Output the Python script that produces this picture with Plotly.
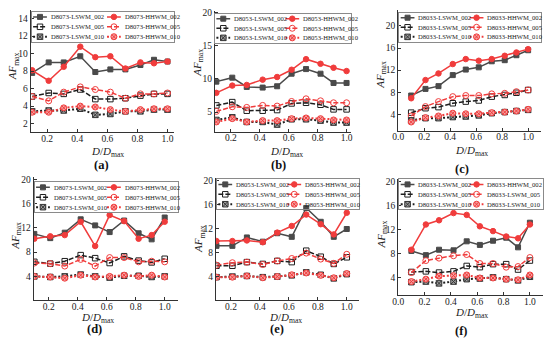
import plotly.graph_objects as go

# ---------------- data ----------------
D_ratio = [0.1, 0.21, 0.31, 0.42, 0.52, 0.62, 0.72, 0.82, 0.91, 1.0]

# panel (a) D8073
a_lswm_002 = [7.8, 9.0, 9.0, 9.7, 7.9, 8.2, 8.2, 8.7, 9.3, 9.1]
a_hhwm_002 = [8.1, 6.9, 8.5, 10.8, 9.6, 9.7, 8.3, 9.0, 8.9, 9.1]
a_lswm_005 = [5.1, 5.5, 5.4, 5.9, 4.8, 4.8, 4.9, 5.2, 5.4, 5.4]
a_hhwm_005 = [5.1, 4.6, 5.6, 6.2, 5.9, 5.6, 4.9, 5.4, 5.4, 5.5]
a_lswm_010 = [3.4, 3.5, 3.5, 3.7, 3.0, 3.1, 3.4, 3.4, 3.6, 3.6]
a_hhwm_010 = [3.3, 3.3, 3.8, 4.0, 3.9, 3.6, 3.4, 3.6, 3.7, 3.7]

# panel (b) D8053
b_lswm_002 = [9.6, 10.2, 8.8, 8.7, 8.9, 10.8, 11.5, 10.8, 9.4, 9.4]
b_hhwm_002 = [7.9, 9.0, 9.1, 9.9, 10.3, 11.4, 13.0, 12.3, 11.7, 11.2]
b_lswm_005 = [6.0, 6.5, 5.2, 5.2, 5.3, 6.3, 6.4, 6.1, 5.4, 5.4]
b_hhwm_005 = [5.1, 5.8, 5.7, 6.0, 5.9, 6.6, 7.0, 6.7, 6.4, 6.4]
b_lswm_010 = [3.8, 4.2, 3.5, 3.5, 3.1, 3.9, 3.9, 3.7, 3.4, 3.4]
b_hhwm_010 = [3.5, 4.0, 3.5, 3.7, 3.7, 4.0, 4.1, 4.0, 3.8, 3.8]

# panel (c) D8033
c_lswm_002 = [7.4, 8.6, 9.1, 11.1, 12.1, 12.5, 13.6, 13.8, 14.7, 15.6]
c_hhwm_002 = [6.9, 10.2, 11.4, 13.1, 14.0, 13.7, 14.0, 14.6, 15.2, 15.8]
c_lswm_005 = [4.3, 5.1, 5.3, 6.0, 6.3, 6.5, 7.2, 7.5, 7.9, 8.4]
c_hhwm_005 = [3.7, 5.4, 6.3, 7.2, 7.4, 7.4, 7.7, 7.8, 8.1, 8.4]
c_lswm_010 = [2.9, 3.3, 3.3, 3.5, 3.6, 3.8, 4.2, 4.4, 4.6, 4.8]
c_hhwm_010 = [2.6, 3.4, 3.7, 4.2, 4.1, 4.1, 4.3, 4.4, 4.6, 4.9]

# panel (d) D8073
d_lswm_002 = [11.0, 10.3, 11.2, 13.4, 12.4, 11.3, 13.2, 11.1, 10.1, 13.7]
d_hhwm_002 = [10.2, 10.6, 10.8, 13.0, 9.0, 14.1, 13.1, 10.2, 10.8, 13.0]
d_lswm_005 = [6.4, 6.1, 6.5, 7.5, 7.0, 6.2, 7.3, 6.6, 6.3, 6.9]
d_hhwm_005 = [6.2, 6.1, 5.7, 6.8, 5.7, 7.1, 7.1, 6.4, 6.5, 6.4]
d_lswm_010 = [4.0, 3.9, 4.0, 4.3, 4.0, 3.8, 4.1, 4.1, 3.9, 4.0]
d_hhwm_010 = [4.0, 3.9, 3.7, 4.2, 3.9, 4.0, 4.2, 4.0, 4.2, 3.9]

# panel (e) D8053
e_lswm_002 = [9.1, 9.1, 10.5, 9.8, 11.2, 10.6, 15.4, 13.1, 10.6, 11.9]
e_hhwm_002 = [9.9, 9.9, 10.0, 9.7, 11.3, 12.4, 14.3, 12.7, 11.0, 14.6]
e_lswm_005 = [5.8, 5.8, 6.4, 6.1, 6.6, 6.4, 8.3, 7.3, 6.1, 7.2]
e_hhwm_005 = [5.9, 6.3, 6.4, 6.0, 6.6, 7.0, 7.9, 6.9, 6.2, 7.7]
e_lswm_010 = [3.9, 4.0, 4.1, 3.9, 4.0, 4.2, 4.7, 4.3, 3.7, 4.4]
e_hhwm_010 = [3.9, 3.9, 4.1, 3.8, 4.0, 4.3, 4.6, 4.2, 3.8, 4.5]

# panel (f) D8033
f_lswm_002 = [8.4, 7.7, 8.6, 8.5, 10.0, 9.4, 10.1, 10.6, 9.0, 13.1]
f_hhwm_002 = [8.6, 12.8, 13.5, 14.7, 14.4, 12.5, 11.7, 10.8, 10.5, 12.8]
f_lswm_005 = [4.9, 5.0, 4.8, 5.0, 5.9, 5.7, 6.2, 6.2, 5.3, 6.8]
f_hhwm_005 = [4.8, 6.8, 7.2, 7.6, 7.8, 6.3, 6.3, 5.7, 5.8, 7.3]
f_lswm_010 = [3.2, 3.3, 3.0, 3.3, 3.7, 3.8, 4.0, 3.7, 3.5, 4.1]
f_hhwm_010 = [3.3, 3.7, 4.2, 4.3, 4.4, 3.9, 3.9, 3.7, 3.6, 4.4]

# legend labels
a_labels = ["D8073-LSWM_002", "D8073-HHWM_002", "D8073-LSWM_005", "D8073-HHWM_005", "D8073-LSWM_010", "D8073-HHWM_010"]
b_labels = ["D8053-LSWM_002", "D8053-HHWM_002", "D8053-LSWM_005", "D8053-HHWM_005", "D8053-LSWM_010", "D8053-HHWM_010"]
c_labels = ["D8033-LSWM_002", "D8033-HHWM_002", "D8033-LSWM_005", "D8033-HHWM_005", "D8033-LSWM_010", "D8033-HHWM_010"]
d_labels = ["D8073-LSWM_002", "D8073-HHWM_002", "D8073-LSWM_005", "D8073-HHWM_005", "D8073-LSWM_010", "D8073-HHWM_010"]
e_labels = ["D8053-LSWM_002", "D8053-HHWM_002", "D8053-LSWM_005", "D8053-HHWM_005", "D8053-LSWM_010", "D8053-HHWM_010"]
f_labels = ["D8033-LSWM_002", "D8033-HHWM_002", "D8033-LSWM_005", "D8033-LSWM_005", "D8033-LSWM_010", "D8033-LSWM_010"]

panel_tags = ["(a)", "(b)", "(c)", "(d)", "(e)", "(f)"]

a_yticks = [2, 4, 6, 8, 10, 12, 14]
b_yticks = [5, 10, 15, 20]
cdef_yticks = [4, 8, 12, 16, 20]
x_ticks_short = [0.2, 0.4, 0.6, 0.8, 1.0]
x_ticks_full = [0.0, 0.2, 0.4, 0.6, 0.8, 1.0]

# ---------------- styles ----------------
GRAY = "#4a4a4a"
RED = "#f03c3c"
BLK = "#1e1e1e"
styles = [
    dict(color=GRAY, dash="solid", width=1.5, symbol="square", fill=GRAY, mline=GRAY, size=5),
    dict(color=RED, dash="solid", width=1.5, symbol="circle", fill=RED, mline=RED, size=5.5),
    dict(color=BLK, dash="5px,2px", width=1.5, symbol="square-open", fill=BLK, mline=BLK, size=5.5),
    dict(color=RED, dash="5px,2px", width=1.5, symbol="circle-open", fill=RED, mline=RED, size=6),
    dict(color=BLK, dash="2px,2px", width=2, symbol="square-x", fill="#a0a0a0", mline="#333333", size=5.5),
    dict(color=RED, dash="2px,2px", width=2, symbol="circle-x", fill="#f6a0a0", mline=RED, size=6),
]

W, H = 550, 340
SERIF = "Liberation Serif"

panels = [
    dict(series=[a_lswm_002, a_hhwm_002, a_lswm_005, a_hhwm_005, a_lswm_010, a_hhwm_010], labels=a_labels,
         dx=(25, 170), dy=(7, 130.5), xr=[0.09, 1.04], yr=[1, 15], yt=a_yticks, xt=x_ticks_short,
         box=((26, 170), (9, 39)), col=75, ytitle=(8, 64), xtitle=(103, 150), tag=(97, 163)),
    dict(series=[b_lswm_002, b_hhwm_002, b_lswm_005, b_hhwm_005, b_lswm_010, b_hhwm_010], labels=b_labels,
         dx=(212, 350), dy=(8, 130), xr=[0.09, 1.03], yr=[2, 20.3], yt=b_yticks, xt=x_ticks_short,
         box=((212, 350), (11, 40)), col=70, ytitle=(195, 60), xtitle=(285, 150), tag=(277, 163)),
    dict(series=[c_lswm_002, c_hhwm_002, c_lswm_005, c_hhwm_005, c_lswm_010, c_hhwm_010], labels=c_labels,
         dx=(398, 543), dy=(7, 129), xr=[0.0, 1.1], yr=[1, 22.9], yt=cdef_yticks, xt=x_ticks_full,
         box=((399, 543), (10, 39)), col=70, ytitle=(381, 72), xtitle=(472, 149), tag=(463, 167)),
    dict(series=[d_lswm_002, d_hhwm_002, d_lswm_005, d_hhwm_005, d_lswm_010, d_hhwm_010], labels=d_labels,
         dx=(28, 175), dy=(176, 300), xr=[0.095, 1.095], yr=[0.05, 20.3], yt=cdef_yticks, xt=x_ticks_short,
         box=((29, 175), (181, 211)), col=72, ytitle=(10, 235), xtitle=(93, 318), tag=(90, 329)),
    dict(series=[e_lswm_002, e_hhwm_002, e_lswm_005, e_hhwm_005, e_lswm_010, e_hhwm_010], labels=e_labels,
         dx=(213, 358), dy=(177, 300), xr=[0.096, 1.083], yr=[0.05, 20.3], yt=cdef_yticks, xt=x_ticks_short,
         box=((214, 358), (178, 208)), col=70, ytitle=(196, 238), xtitle=(284, 318), tag=(275, 329)),
    dict(series=[f_lswm_002, f_hhwm_002, f_lswm_005, f_hhwm_005, f_lswm_010, f_hhwm_010], labels=f_labels,
         dx=(398, 545), dy=(178, 295), xr=[0.0, 1.1], yr=[1, 20.3], yt=cdef_yticks, xt=x_ticks_full,
         box=((399, 545), (178, 208)), col=70, ytitle=(381, 233), xtitle=(472, 313), tag=(462, 331)),
]


def fx(p):
    return p / W


def fy(p):
    return 1 - p / H


fig = go.Figure()
layout = dict(width=W, height=H, margin=dict(l=0, r=0, t=0, b=0), paper_bgcolor="white",
              plot_bgcolor="rgba(0,0,0,0)", showlegend=False, font=dict(family=SERIF, color="#222"))
annotations = []
n = len(panels)

for k, p in enumerate(panels):
    ax = k + 1
    xn = "x" if ax == 1 else f"x{ax}"
    yn = "y" if ax == 1 else f"y{ax}"
    xkey = "xaxis" if ax == 1 else f"xaxis{ax}"
    ykey = "yaxis" if ax == 1 else f"yaxis{ax}"
    layout[xkey] = dict(domain=[fx(p["dx"][0]), fx(p["dx"][1])], range=p["xr"], anchor=yn,
                        tickvals=p["xt"], tickformat=".1f", showline=True, linecolor="#333", linewidth=1,
                        ticks="inside", ticklen=3, tickcolor="#333", showgrid=False, zeroline=False,
                        ticklabelstandoff=-3,
                        tickfont=dict(family=SERIF, size=9.5, color="#222"))
    layout[ykey] = dict(domain=[fy(p["dy"][1]), fy(p["dy"][0])], range=p["yr"], anchor=xn,
                        tickvals=p["yt"], showline=True, linecolor="#333", linewidth=1,
                        ticks="inside", ticklen=3, tickcolor="#333", showgrid=False, zeroline=False,
                        tickfont=dict(family=SERIF, size=9.5, color="#222"))
    for s, vals in enumerate(p["series"]):
        st = styles[s]
        fig.add_trace(go.Scatter(
            x=D_ratio, y=vals, xaxis=xn, yaxis=yn, mode="lines+markers", name=p["labels"][s],
            line=dict(color=st["color"], dash=st["dash"], width=st["width"]),
            marker=dict(symbol=st["symbol"], size=st["size"], color=st["fill"],
                        line=dict(color=st["mline"], width=1)),
            showlegend=False, hoverinfo="skip"))

    # legend box on helper axes
    lax = ax + n
    lxn, lyn = f"x{lax}", f"y{lax}"
    (bx0, bx1), (by0, by1) = p["box"]
    bw = bx1 - bx0
    layout[f"xaxis{lax}"] = dict(domain=[fx(bx0), fx(bx1)], range=[0, bw], anchor=lyn, showline=True, mirror=True,
                                 linecolor="#8a8a8a", linewidth=1, showticklabels=False, ticks="",
                                 showgrid=False, zeroline=False, fixedrange=True)
    layout[f"yaxis{lax}"] = dict(domain=[fy(by1), fy(by0)], range=[0, 3], anchor=lxn, showline=True, mirror=True,
                                 linecolor="#8a8a8a", linewidth=1, showticklabels=False, ticks="",
                                 showgrid=False, zeroline=False, fixedrange=True)
    for s in range(6):
        st = styles[s]
        c = s % 2
        r = s // 2
        x0 = 1.5 + c * p["col"]
        yrow = 2.5 - r
        fig.add_trace(go.Scatter(
            x=[x0, x0 + 7, x0 + 14], y=[yrow] * 3, xaxis=lxn, yaxis=lyn, mode="lines+markers",
            line=dict(color=st["color"], dash=st["dash"], width=st["width"]),
            marker=dict(symbol=st["symbol"], size=[0, st["size"], 0], opacity=[0, 1, 0], color=st["fill"],
                        line=dict(color=st["mline"], width=1)),
            showlegend=False, hoverinfo="skip"))
        annotations.append(dict(x=x0 + 16, y=yrow, xref=lxn, yref=lyn, text=p["labels"][s], showarrow=False,
                                xanchor="left", yanchor="middle", font=dict(family=SERIF, size=6.6, color="#222")))

    annotations.append(dict(x=fx(p["ytitle"][0]), y=fy(p["ytitle"][1]), xref="paper", yref="paper",
                            text="<i>AF</i><sub>max</sub>", textangle=-90, showarrow=False,
                            xanchor="center", yanchor="middle", font=dict(family=SERIF, size=11, color="#222")))
    annotations.append(dict(x=fx(p["xtitle"][0]), y=fy(p["xtitle"][1]), xref="paper", yref="paper",
                            text="<i>D</i>/<i>D</i><sub>max</sub>", showarrow=False,
                            xanchor="center", yanchor="middle", font=dict(family=SERIF, size=11, color="#222")))
    annotations.append(dict(x=fx(p["tag"][0]), y=fy(p["tag"][1]), xref="paper", yref="paper",
                            text="<b>" + panel_tags[k] + "</b>", showarrow=False,
                            xanchor="center", yanchor="middle", font=dict(family=SERIF, size=12.5, color="#111")))

layout["annotations"] = annotations
fig.update_layout(**layout)
# remove the default 8px page margin so the 550x340 figure fills the window exactly
fig.write_html("out.html", config={"displayModeBar": False},
               post_script="document.body.style.margin='0';")
